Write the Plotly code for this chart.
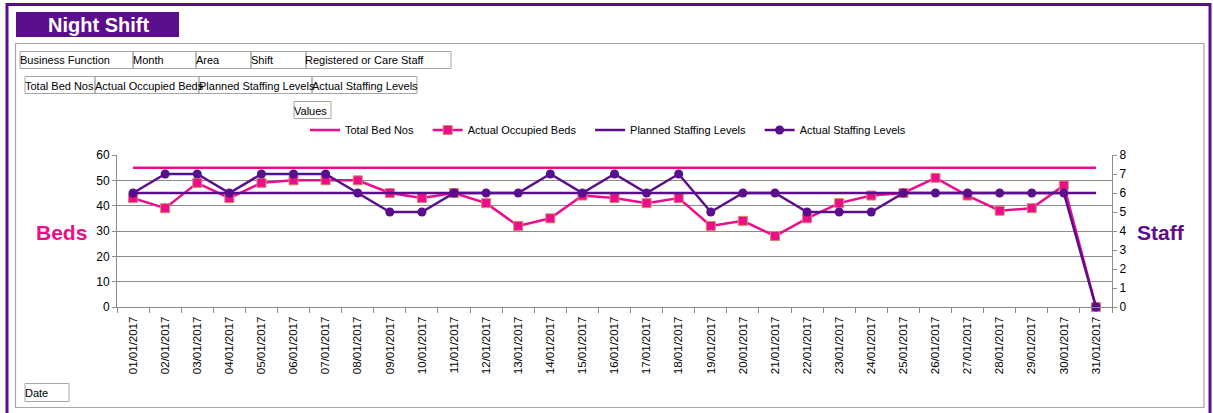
import plotly.graph_objects as go

W, H = 1213, 413

dates = ["01/01/2017", "02/01/2017", "03/01/2017", "04/01/2017", "05/01/2017",
         "06/01/2017", "07/01/2017", "08/01/2017", "09/01/2017", "10/01/2017",
         "11/01/2017", "12/01/2017", "13/01/2017", "14/01/2017", "15/01/2017",
         "16/01/2017", "17/01/2017", "18/01/2017", "19/01/2017", "20/01/2017",
         "21/01/2017", "22/01/2017", "23/01/2017", "24/01/2017", "25/01/2017",
         "26/01/2017", "27/01/2017", "28/01/2017", "29/01/2017", "30/01/2017",
         "31/01/2017"]

total_bed_nos = [55, 55, 55, 55, 55, 55, 55, 55, 55, 55,
                 55, 55, 55, 55, 55, 55, 55, 55, 55, 55,
                 55, 55, 55, 55, 55, 55, 55, 55, 55, 55, 55]
actual_occupied_beds = [43, 39, 49, 43, 49, 50, 50, 50, 45, 43,
                        45, 41, 32, 35, 44, 43, 41, 43, 32, 34,
                        28, 35, 41, 44, 45, 51, 44, 38, 39, 48, 0]
planned_staffing = [6, 6, 6, 6, 6, 6, 6, 6, 6, 6,
                    6, 6, 6, 6, 6, 6, 6, 6, 6, 6,
                    6, 6, 6, 6, 6, 6, 6, 6, 6, 6, 6]
actual_staffing = [6, 7, 7, 6, 7, 7, 7, 6, 5, 5,
                   6, 6, 6, 7, 6, 7, 6, 7, 5, 6,
                   6, 5, 5, 5, 6, 6, 6, 6, 6, 6, 0]

series_names = ["Total Bed Nos", "Actual Occupied Beds", "Planned Staffing Levels", "Actual Staffing Levels"]
field_row1 = ["Business Function", "Month", "Area", "Shift", "Registered or Care Staff"]
field_row2 = ["Total Bed Nos", "Actual Occupied Beds", "Planned Staffing Levels", "Actual Staffing Levels"]

PINK = "#EC0C8C"
PURPLE = "#5B0E8C"
GRID = "#8C8C8C"
FONT = "Liberation Sans, Arial, sans-serif"
PAD = "\u00a0\u00a0\u00a0"  # legend entry spacing


def px(x):
    return x / W


def py(y):
    return 1 - y / H


fig = go.Figure()
fig.add_trace(go.Scatter(x=dates, y=total_bed_nos, name=series_names[0] + PAD, mode="lines",
                         line=dict(color=PINK, width=2.5), cliponaxis=False))
fig.add_trace(go.Scatter(x=dates, y=actual_occupied_beds, name=series_names[1] + PAD,
                         mode="lines+markers", line=dict(color=PINK, width=2.5),
                         marker=dict(symbol="square", size=9, color=PINK,
                                     line=dict(color="#D08A6A", width=1)),
                         cliponaxis=False))
fig.add_trace(go.Scatter(x=dates, y=planned_staffing, name=series_names[2] + PAD, mode="lines",
                         line=dict(color=PURPLE, width=2.5), yaxis="y2", cliponaxis=False))
fig.add_trace(go.Scatter(x=dates, y=actual_staffing, name=series_names[3],
                         mode="lines+markers", line=dict(color=PURPLE, width=2.5),
                         marker=dict(symbol="circle", size=9, color=PURPLE),
                         yaxis="y2", cliponaxis=False))

shapes = []
annotations = []

# outer purple frame
shapes.append(dict(type="rect", xref="paper", yref="paper",
                   x0=px(7), x1=px(1210), y0=py(425), y1=py(4.5),
                   line=dict(color=PURPLE, width=3), layer="below"))
# inner grey chart frame
shapes.append(dict(type="rect", xref="paper", yref="paper",
                   x0=px(15.5), x1=px(1204), y0=py(407.5), y1=py(43.5),
                   line=dict(color="#A6A6A6", width=1.2), layer="below"))
# title box
shapes.append(dict(type="rect", xref="paper", yref="paper",
                   x0=px(16), x1=px(179), y0=py(37), y1=py(12),
                   fillcolor=PURPLE, line=dict(width=0), layer="below"))
annotations.append(dict(text="<b>Night Shift</b>", xref="paper", yref="paper",
                        x=px(98), y=py(25), xanchor="center", yanchor="middle",
                        showarrow=False, font=dict(family=FONT, size=20, color="white")))


def button(label, x0, x1, y0, y1):
    shapes.append(dict(type="rect", xref="paper", yref="paper",
                       x0=px(x0), x1=px(x1), y0=py(y1), y1=py(y0),
                       line=dict(color="#A6A6A6", width=1), layer="below"))
    annotations.append(dict(text=label, xref="paper", yref="paper",
                            x=px(x0 - 2.5), y=py((y0 + y1) / 2 + 0.5),
                            xanchor="left", yanchor="middle", showarrow=False,
                            font=dict(family=FONT, size=11, color="black")))


row1_edges = [20, 133, 196, 251, 306, 451]
for i, lab in enumerate(field_row1):
    button(lab, row1_edges[i], row1_edges[i + 1], 51.5, 68.5)
row2_edges = [25, 95, 199, 312, 417]
for i, lab in enumerate(field_row2):
    button(lab, row2_edges[i], row2_edges[i + 1], 76.5, 93.5)
button("Values", 294, 331, 101.5, 118.5)
button("Date", 25, 69, 383.5, 401.5)

annotations.append(dict(text="<b>Beds</b>", xref="paper", yref="paper",
                        x=px(61), y=py(232), xanchor="center", yanchor="middle",
                        showarrow=False, font=dict(family=FONT, size=21, color=PINK)))
annotations.append(dict(text="<b>Staff</b>", xref="paper", yref="paper",
                        x=px(1161), y=py(232), xanchor="center", yanchor="middle",
                        showarrow=False, font=dict(family=FONT, size=21, color=PURPLE)))

fig.update_layout(
    width=W, height=H,
    margin=dict(l=0, r=0, t=0, b=0),
    paper_bgcolor="white", plot_bgcolor="white",
    font=dict(family=FONT, size=11, color="black"),
    showlegend=True,
    legend=dict(orientation="h", x=px(305), y=py(130), xanchor="left", yanchor="middle",
                font=dict(family=FONT, size=11, color="black"),
                bgcolor="rgba(0,0,0,0)", itemwidth=30, tracegroupgap=0),
    xaxis=dict(type="category", domain=[px(117), px(1112)], range=[-0.5, 30.5],
               tickangle=-90, ticks="outside", tickson="boundaries", ticklen=5,
               tickcolor=GRID, showline=True, linecolor=GRID, linewidth=1,
               showgrid=False, automargin=False, ticklabelstandoff=4,
               tickfont=dict(family=FONT, size=11.5, color="black")),
    yaxis=dict(domain=[py(307), py(155)], range=[0, 60], dtick=10,
               ticks="outside", ticklen=4, tickcolor=GRID, showline=True,
               linecolor=GRID, linewidth=1, showgrid=True, gridcolor=GRID,
               gridwidth=1, zeroline=False, automargin=False,
               tickfont=dict(family=FONT, size=12, color="black")),
    yaxis2=dict(overlaying="y", side="right", range=[0, 8], dtick=1,
                ticks="outside", ticklen=4, tickcolor=GRID, showline=True,
                linecolor=GRID, linewidth=1, showgrid=False, zeroline=False,
                automargin=False, anchor="x",
                tickfont=dict(family=FONT, size=12, color="black")),
    shapes=shapes,
    annotations=annotations,
)

fig.write_html("out.html", config={"displayModeBar": False},
               post_script="document.body.style.margin='0';document.body.style.overflow='hidden';")
